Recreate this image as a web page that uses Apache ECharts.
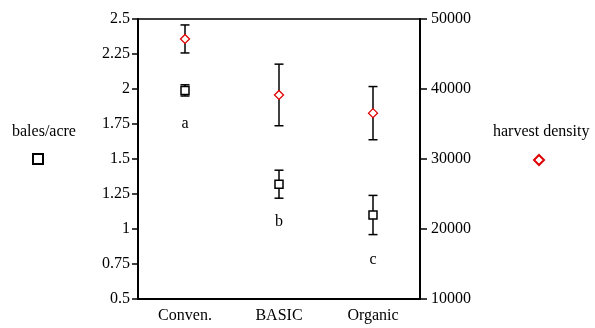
<!DOCTYPE html>
<html>
<head>
<meta charset="utf-8">
<script src="https://cdn.jsdelivr.net/npm/echarts@6/dist/echarts.min.js"></script>
<style>html,body{margin:0;padding:0;background:#fff}#c{width:595px;height:328px}</style>
</head>
<body>
<div id="c"></div>
<script>
var categories = ['Conven.', 'BASIC', 'Organic'];
var balesPerAcre = [1.99, 1.32, 1.10];
var balesErr = [0.04, 0.10, 0.14];
var harvestDensity = [47150, 39150, 36550];
var harvestErr = [2000, 4400, 3800];
var groupLetters = ['a', 'b', 'c'];
var letterPos = [1.75, 1.05, 0.78];
var leftTicks = {min: 0.5, max: 2.5, interval: 0.25};
var rightTicks = {min: 10000, max: 50000, interval: 10000};

var FONT = '"Liberation Serif", "Times New Roman", serif';
var chart = echarts.init(document.getElementById('c'), null, {renderer: 'canvas'});

function errData(vals, errs) {
  return vals.map(function (v, i) { return [i, v - errs[i], v + errs[i]]; });
}
function errRender(params, api) {
  var x = api.value(0);
  var lo = api.coord([x, api.value(1)]);
  var hi = api.coord([x, api.value(2)]);
  var hw = 4.5;
  var st = {stroke: '#000', lineWidth: 1.5, fill: null};
  return {
    type: 'group',
    children: [
      {type: 'line', shape: {x1: lo[0], y1: lo[1], x2: hi[0], y2: hi[1]}, style: st},
      {type: 'line', shape: {x1: lo[0] - hw, y1: lo[1], x2: lo[0] + hw, y2: lo[1]}, style: st},
      {type: 'line', shape: {x1: hi[0] - hw, y1: hi[1], x2: hi[0] + hw, y2: hi[1]}, style: st}
    ]
  };
}

var option = {
  animation: false,
  backgroundColor: '#fff',
  textStyle: {fontFamily: FONT},
  title: [
    {text: 'bales/acre', left: 7, top: 119, textStyle: {fontFamily: FONT, fontSize: 16, fontWeight: 'normal', color: '#000'}},
    {text: 'harvest density', left: 488, top: 119, textStyle: {fontFamily: FONT, fontSize: 16, fontWeight: 'normal', color: '#000'}}
  ],
  legend: [
    {data: ['bales/acre'], left: 32, top: 153, padding: 0, itemWidth: 10, itemHeight: 10, formatter: function () { return ''; }, selectedMode: false, itemGap: 0},
    {data: ['harvest density'], left: 533, top: 154, padding: 0, itemWidth: 10, itemHeight: 10, formatter: function () { return ''; }, selectedMode: false, itemGap: 0}
  ],
  grid: {left: 138, right: 175, top: 19, bottom: 29, show: true, borderColor: '#000', borderWidth: 1.5, containLabel: false},
  xAxis: {
    type: 'category', data: categories, boundaryGap: true,
    axisLine: {lineStyle: {color: '#000', width: 2}},
    axisTick: {alignWithLabel: true, length: 6, lineStyle: {color: '#000', width: 1.5}},
    axisLabel: {color: '#000', fontSize: 16, fontFamily: FONT, margin: 9},
    splitLine: {show: false}
  },
  yAxis: [
    {
      type: 'value', position: 'left', min: leftTicks.min, max: leftTicks.max, interval: leftTicks.interval,
      axisLine: {show: true, lineStyle: {color: '#000', width: 2}},
      axisTick: {show: true, length: 6, lineStyle: {color: '#000', width: 1.5}},
      axisLabel: {color: '#000', fontSize: 16, fontFamily: FONT, margin: 8},
      splitLine: {show: false}
    },
    {
      type: 'value', position: 'right', min: rightTicks.min, max: rightTicks.max, interval: rightTicks.interval,
      axisLine: {show: true, lineStyle: {color: '#000', width: 2}},
      axisTick: {show: true, length: 7, lineStyle: {color: '#000', width: 1.5}},
      axisLabel: {color: '#000', fontSize: 16, fontFamily: FONT, margin: 11, formatter: function (v) { return String(v); }},
      splitLine: {show: false}
    }
  ],
  series: [
    {type: 'custom', name: 'bales err', yAxisIndex: 0, data: errData(balesPerAcre, balesErr), renderItem: errRender, z: 2, silent: true,
      encode: {x: 0, y: [1, 2]}},
    {type: 'custom', name: 'density err', yAxisIndex: 1, data: errData(harvestDensity, harvestErr), renderItem: errRender, z: 2, silent: true,
      encode: {x: 0, y: [1, 2]}},
    {type: 'scatter', name: 'bales/acre', yAxisIndex: 0, data: balesPerAcre, symbol: 'rect', symbolSize: 8, z: 5,
      itemStyle: {color: '#fff', borderColor: '#000', borderWidth: 1.5, opacity: 1}},
    {type: 'scatter', name: 'harvest density', yAxisIndex: 1, data: harvestDensity, symbol: 'diamond', symbolSize: [9, 9], z: 5,
      itemStyle: {color: '#fff', borderColor: '#e00000', borderWidth: 1.3, opacity: 1}},
    {type: 'scatter', name: 'letters', yAxisIndex: 0, data: letterPos, symbolSize: 0, silent: true, z: 6,
      itemStyle: {color: 'transparent'},
      label: {show: true, position: 'inside', formatter: function (p) { return groupLetters[p.dataIndex]; },
        color: '#000', fontSize: 16, fontFamily: FONT, textBorderWidth: 0, opacity: 1}}
  ]
};
chart.setOption(option);
</script>
</body>
</html>
